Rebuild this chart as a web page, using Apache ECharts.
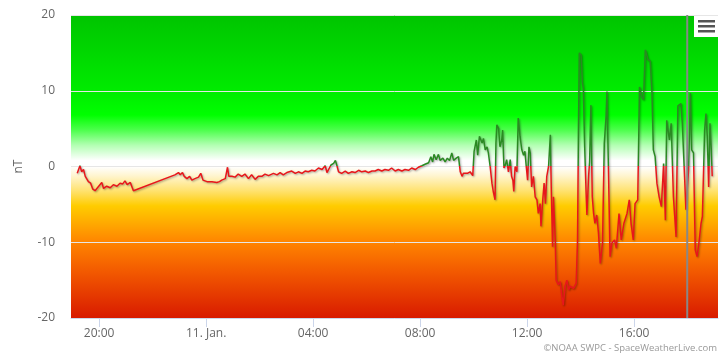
<!DOCTYPE html>
<html>
<head>
<meta charset="utf-8">
<script src="https://cdn.jsdelivr.net/npm/echarts@6/dist/echarts.min.js"></script>
<style>
  html, body { margin: 0; padding: 0; background: #fff; }
  #bz-chart { width: 725px; height: 359px; }
</style>
</head>
<body>
<div id="bz-chart"></div>
<script>
// minutes after 20:00 on 10 Jan, and Bz (nT)
const minutes = [
  -49, -43, -39, -35, -31, -28, -24, -19, -14, -9, -5, -2, 6, 10, 17, 25, 32, 40, 47, 53, 58, 63, 70, 77,
  170, 173, 178, 182, 187, 191, 197, 203, 208, 215, 223, 228, 233, 242, 253, 264, 270, 275, 283, 288, 291,
  298, 305, 312, 320, 327, 335, 342, 350, 357, 365, 372, 380, 391, 399, 406, 413, 421, 432, 440, 447, 455,
  462, 469, 477, 484, 492, 500, 507, 511, 514, 520, 526, 530, 533, 537, 544, 552, 559, 567, 574, 582, 589,
  597, 604, 612, 619, 626, 634, 641, 649, 656, 664, 671, 679, 686, 694, 701, 709, 716, 724, 731, 739, 744,
  748, 751, 756, 761, 765, 771, 776, 781, 786, 791, 795, 801, 806, 810, 814, 817, 821, 826, 832, 838, 841,
  846, 849, 853, 856, 859, 862, 866, 870, 873, 877, 881, 884, 888, 890, 892, 896, 899, 903, 905, 908, 911,
  914, 918, 922, 925, 928, 930, 933, 937, 940, 944, 948, 952, 955, 958, 961, 964, 967, 970, 974, 978, 982,
  985, 989, 991, 995, 998, 1001, 1004, 1008, 1012, 1014, 1017, 1019, 1023, 1025, 1030, 1034, 1038, 1041,
  1045, 1049, 1053, 1056, 1064, 1070, 1073, 1075, 1077, 1081, 1084, 1086, 1089, 1092, 1094, 1098, 1100,
  1103, 1106, 1109, 1112, 1116, 1120, 1124, 1129, 1133, 1137, 1139, 1142, 1146, 1150, 1156, 1160, 1166,
  1171, 1177, 1184, 1189, 1193, 1198, 1202, 1208, 1212, 1217, 1221, 1225, 1231, 1236, 1240, 1243, 1247,
  1251, 1256, 1261, 1266, 1270, 1273, 1279, 1283, 1288, 1294, 1298, 1305, 1308, 1313, 1316, 1322, 1326,
  1329, 1333, 1337, 1341, 1346, 1350, 1353, 1358, 1361, 1364, 1367, 1370, 1373, 1375
];
const bz = [
  -0.9, 0.1, -0.7, -0.4, -1.3, -1.3, -2.0, -2.2, -3.0, -3.2, -2.9, -3.1, -2.1, -2.9, -2.6, -2.8, -2.4, -2.6, -2.2, -2.3, -1.9, -2.4, -2.1, -3.2,
  -1.1, -1.0, -0.8, -1.1, -0.8, -1.3, -1.6, -1.3, -1.8, -1.6, -1.4, -0.9, -1.8, -2.0, -2.0, -2.1, -2.0, -1.8, -1.6, -0.1, -1.3,
  -1.3, -1.4, -1.0, -1.3, -1.0, -1.6, -1.1, -1.7, -1.3, -1.3, -1.0, -1.2, -0.9, -1.1, -0.8, -1.1, -0.8, -0.6, -0.9, -0.7, -0.9,
  -0.6, -0.7, -0.5, -0.6, -0.2, -0.4, 0.1, -0.8, -0.9, 0.2, 0.4, 0.8, 0.2, -0.7, -0.9, -0.6, -0.9, -0.7, -0.8, -0.5, -0.7,
  -0.6, -0.8, -0.6, -0.6, -0.4, -0.6, -0.4, -0.5, -0.2, -0.6, -0.4, -0.6, -0.4, -0.5, -0.2, -0.4, -0.1, 0.1, 0.3, 0.5, 1.3,
  0.6, 1.6, 0.9, 1.6, 0.8, 1.1, 0.6, 1.1, 0.8, 1.8, 0.8, 1.1, 1.3, -0.7, -1.3, -0.9, -0.7, -0.9, -0.7, -1.2, 2.0,
  3.5, 1.5, 4.0, 4.2, 3.1, 3.7, 2.2, 2.6, 1.8, 0.0, -2.2, -3.3, -4.4, 3.1, 5.5, 5.0, 2.6, 3.5, 4.8, -0.2, 0.2,
  0.9, -0.7, 0.9, -1.3, -1.8, -3.3, 0.0, -0.7, 6.4, 4.0, 2.2, 1.5, 2.0, 0.0, -1.8, 2.6, 1.8, -2.7, -1.3, -4.0, -4.4,
  -6.2, -4.9, -7.9, -4.4, -2.2, -4.9, -1.3, 0.0, 4.2, -2.7, -10.6, -4.0, -9.7, -15.0, -15.6, -15.2, -17.2, -18.3,
  -15.8, -15.0, -16.3, -15.8, -16.1, -15.4, -9.7, 4.4, 15.0, 14.7, 11.0, 10.3, 2.6, -3.1, -6.4, -1.1, 0.6,
  8.1, -4.0, -6.2, -7.5, -6.4, -8.8, -12.8, -10.1, 3.1, 6.6, 9.9, 9.7, -11.9, -10.1, -9.7, -10.8, -6.2,
  -9.7, -7.5, -6.2, -4.4, -7.5, -9.7, -4.9, -4.4, 10.5, 9.2, 8.8, 15.4, 14.1, 13.9, 9.7, 2.2, 1.3,
  -2.2, -4.0, -5.3, 0.4, -7.1, 6.1, 3.5, 5.7, -4.0, -9.3, 8.0, 8.3, 5.7, -1.3, -5.7, -0.5, 9.7,
  2.2, 1.8, -11.0, -11.9, -9.7, -7.5, -6.6, 4.8, 7.0, 4.0, -2.7, 5.7, 2.2, -1.3
];
const tickMinutes = [0, 240, 480, 720, 960, 1200];
const yTicks = [-20, -10, 0, 10, 20];
const markerMinute = 1319;

let myChart = echarts.init(document.getElementById("bz-chart"));

function pad(n) {
  return n < 10 ? "0" + n : "" + n;
}

// plot area: top 15, height 303 -> zero line sits at the middle
myChart.setOption({
  animation: false,
  textStyle: { fontFamily: "Open Sans, DejaVu Sans, sans-serif" },
  grid: {
    left: 71,
    right: 7,
    top: 15,
    bottom: 41,
    show: true,
    borderWidth: 0,
    backgroundColor: {
      type: "linear",
      x: 0, y: 0, x2: 0, y2: 1,
      colorStops: [
        { offset: 0, color: "#00c400" },
        { offset: 0.25, color: "#00ec00" },
        { offset: 0.33, color: "#00ff00" },
        { offset: 0.38, color: "#4dff4d" },
        { offset: 0.43, color: "#b3ffb3" },
        { offset: 0.48, color: "#ffffff" },
        { offset: 0.5, color: "#ffffff" },
        { offset: 0.53, color: "#fff5d0" },
        { offset: 0.58, color: "#ffe270" },
        { offset: 0.63, color: "#ffcc00" },
        { offset: 0.7, color: "#ffa200" },
        { offset: 0.75, color: "#ff8400" },
        { offset: 0.85, color: "#f25800" },
        { offset: 1, color: "#d81a00" }
      ]
    }
  },
  xAxis: {
    type: "value",
    min: -63,
    max: 1388,
    splitLine: { show: false },
    axisLine: { show: true, onZero: false, lineStyle: { color: "#ccd6eb" } },
    axisTick: {
      show: true,
      length: 9,
      customValues: tickMinutes,
      lineStyle: { color: "#ccd6eb" }
    },
    axisLabel: {
      customValues: tickMinutes,
      color: "#666",
      fontSize: 12,
      margin: 10,
      formatter: function(v) {
        let h = Math.round((20 * 60 + v) / 60) % 24;
        if (h === 0) return "11. Jan.";
        return pad(h) + ":00";
      }
    }
  },
  yAxis: {
    type: "value",
    min: -20,
    max: 20,
    interval: 10,
    name: "nT",
    nameLocation: "middle",
    nameRotate: 90,
    nameGap: 46,
    nameTextStyle: { color: "#666", fontSize: 12 },
    axisLine: { show: false },
    axisTick: { show: false },
    axisLabel: {
      color: "#666",
      fontSize: 12,
      margin: 16,
      customValues: yTicks
    },
    splitLine: { show: true, lineStyle: { color: "#e6e6e6", width: 1 } }
  },
  series: [
    {
      name: "Bz",
      type: "line",
      showSymbol: false,
      symbol: "none",
      z: 3,
      data: minutes.map((m, i) => [m, bz[i]]),
      lineStyle: {
        width: 1.5,
        // green above 0, red below
        color: {
          type: "linear",
          global: true,
          x: 0, y: 15, x2: 0, y2: 318,
          colorStops: [
            { offset: 0, color: "#2a8a22" },
            { offset: 0.5, color: "#2a8a22" },
            { offset: 0.5, color: "#e8161b" },
            { offset: 1, color: "#e8161b" }
          ]
        },
        shadowColor: "rgba(0,0,0,0.35)",
        shadowBlur: 2,
        shadowOffsetX: 1,
        shadowOffsetY: 1
      }
    },
    {
      name: "now",
      type: "line",
      showSymbol: false,
      symbol: "none",
      silent: true,
      z: 4,
      data: [[markerMinute, -20], [markerMinute, 20]],
      lineStyle: { color: "#888", width: 2 }
    }
  ],
  graphic: [
    {
      type: "group",
      right: 7,
      top: 15,
      z: 10,
      children: [
        { type: "rect", shape: { x: 0, y: 0, width: 24, height: 22 }, style: { fill: "#fff" } },
        { type: "rect", shape: { x: 4, y: 5, width: 17, height: 2.5 }, style: { fill: "#555" } },
        { type: "rect", shape: { x: 4, y: 10, width: 17, height: 2.5 }, style: { fill: "#555" } },
        { type: "rect", shape: { x: 4, y: 15, width: 17, height: 2.5 }, style: { fill: "#555" } }
      ]
    },
    {
      type: "text",
      right: 8,
      bottom: 6,
      style: {
        text: "©NOAA SWPC - SpaceWeatherLive.com",
        fill: "#999",
        font: "9.5px Open Sans, sans-serif"
      }
    }
  ]
});
</script>
</body>
</html>
